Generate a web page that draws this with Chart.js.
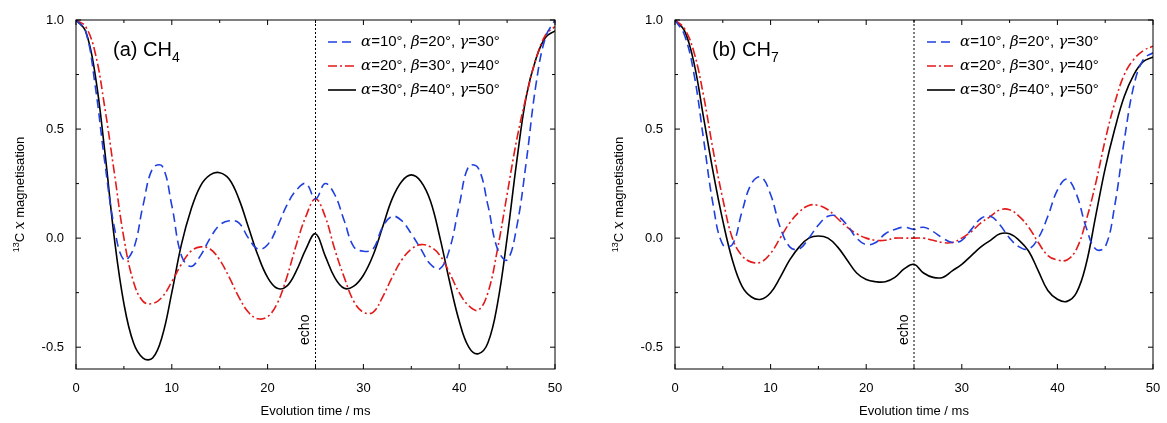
<!DOCTYPE html>
<html><head><meta charset="utf-8">
<script src="https://cdn.jsdelivr.net/npm/chart.js@4/dist/chart.umd.min.js"></script>
<style>
body{margin:0;background:#fff;width:1167px;height:423px;overflow:hidden}
.p{position:absolute;top:0;height:423px}
</style></head><body>
<div class="p" style="left:0;width:580px"><canvas id="ca"></canvas></div>
<div class="p" style="left:600px;width:567px"><canvas id="cb"></canvas></div>
<script>
const times = Array.from({length: 51}, (_, i) => i);
const legendLabels = ['=10°, β=20°, γ=30°', '=20°, β=30°, γ=40°', '=30°, β=40°, γ=50°'];
const yTicks = [-0.5, 0, 0.5, 1.0];

const blueA = [1.0,0.95,0.7,0.35,0.05,-0.1,-0.05,0.15,0.32,0.33,0.15,-0.08,-0.13,-0.08,0.0,0.06,0.08,0.07,0.0,-0.05,-0.03,0.05,0.15,0.22,0.25,0.18,0.25,0.2,0.08,-0.04,-0.06,-0.05,0.05,0.1,0.08,0.02,-0.05,-0.12,-0.14,-0.05,0.15,0.33,0.32,0.15,-0.05,-0.1,0.05,0.35,0.7,0.92,1.0];
const redA = [1.0,0.97,0.85,0.6,0.3,0.0,-0.2,-0.29,-0.3,-0.27,-0.2,-0.12,-0.06,-0.04,-0.05,-0.1,-0.18,-0.27,-0.34,-0.37,-0.36,-0.3,-0.18,-0.03,0.1,0.18,0.1,-0.05,-0.18,-0.29,-0.34,-0.34,-0.27,-0.18,-0.1,-0.05,-0.03,-0.04,-0.08,-0.16,-0.25,-0.31,-0.33,-0.25,-0.05,0.2,0.45,0.65,0.82,0.93,0.97];
const blackA = [1.0,0.95,0.75,0.4,0.0,-0.3,-0.48,-0.55,-0.55,-0.45,-0.25,-0.03,0.13,0.24,0.29,0.3,0.27,0.18,0.05,-0.08,-0.18,-0.23,-0.22,-0.15,-0.05,0.02,-0.08,-0.18,-0.23,-0.22,-0.17,-0.08,0.05,0.18,0.26,0.29,0.26,0.17,0.0,-0.2,-0.38,-0.5,-0.53,-0.48,-0.3,0.0,0.35,0.65,0.82,0.92,0.95];
const blueB = [1.0,0.93,0.75,0.45,0.15,-0.03,-0.03,0.12,0.25,0.28,0.2,0.05,-0.04,-0.05,0.0,0.06,0.1,0.1,0.06,0.0,-0.03,-0.02,0.02,0.04,0.05,0.04,0.05,0.03,0.0,-0.02,-0.01,0.04,0.09,0.1,0.06,0.0,-0.04,-0.05,0.0,0.1,0.22,0.27,0.2,0.05,-0.05,-0.04,0.15,0.45,0.7,0.82,0.85];
const redB = [1.0,0.96,0.85,0.65,0.4,0.18,0.0,-0.08,-0.11,-0.11,-0.07,0.0,0.07,0.12,0.15,0.15,0.13,0.09,0.05,0.02,0.0,-0.01,-0.01,0.0,0.0,0.0,0.0,-0.01,-0.02,-0.02,0.0,0.03,0.07,0.1,0.13,0.13,0.1,0.05,-0.02,-0.08,-0.1,-0.1,-0.05,0.08,0.25,0.45,0.62,0.75,0.82,0.86,0.88];
const blackB = [1.0,0.95,0.8,0.55,0.3,0.08,-0.1,-0.22,-0.27,-0.28,-0.25,-0.18,-0.1,-0.04,0.0,0.01,0.0,-0.04,-0.1,-0.16,-0.19,-0.2,-0.2,-0.18,-0.14,-0.12,-0.16,-0.18,-0.18,-0.15,-0.12,-0.08,-0.04,-0.01,0.02,0.02,-0.01,-0.06,-0.15,-0.24,-0.28,-0.29,-0.25,-0.12,0.1,0.32,0.5,0.65,0.75,0.81,0.83];

const styles = [
    {color: '#1f3fe0', dash: [9, 5]},
    {color: '#e41a1a', dash: [9, 3, 2, 3]},
    {color: '#000000', dash: []}
];

const decor = {
    id: 'decor',
    afterDraw(chart) {
        const o = chart.options.plugins.decor;
        const ctx = chart.ctx, a = chart.chartArea;
        const xs = chart.scales.x, ys = chart.scales.y;
        ctx.save();
        ctx.strokeStyle = '#000';
        ctx.lineWidth = 1;
        ctx.strokeRect(a.left, a.top, a.right - a.left, a.bottom - a.top);
        // ticks inward
        ctx.beginPath();
        for (let v = 0; v <= 50; v += 5) {
            const x = xs.getPixelForValue(v), len = v % 10 === 0 ? 5 : 3;
            ctx.moveTo(x, a.bottom); ctx.lineTo(x, a.bottom - len);
            ctx.moveTo(x, a.top); ctx.lineTo(x, a.top + len);
        }
        for (let v = -0.5; v <= 1.0; v += 0.25) {
            const y = ys.getPixelForValue(v), len = Math.abs(v * 2 % 1) < 1e-9 ? 5 : 3;
            ctx.moveTo(a.left, y); ctx.lineTo(a.left + len, y);
            ctx.moveTo(a.right, y); ctx.lineTo(a.right - len, y);
        }
        ctx.stroke();
        // echo line
        const ex = xs.getPixelForValue(25);
        ctx.setLineDash([2, 2]);
        ctx.beginPath(); ctx.moveTo(ex, a.top); ctx.lineTo(ex, a.bottom); ctx.stroke();
        ctx.setLineDash([]);
        ctx.fillStyle = '#000';
        ctx.font = '14px "Liberation Sans", Arial';
        ctx.save();
        ctx.translate(ex - 3, ys.getPixelForValue(-0.42));
        ctx.rotate(-Math.PI / 2);
        ctx.textAlign = 'center';
        ctx.textBaseline = 'bottom';
        ctx.fillText('echo', 0, 0);
        ctx.restore();
        // panel label
        ctx.font = '20px "Liberation Sans", Arial';
        ctx.textBaseline = 'alphabetic';
        ctx.fillText(o.label, a.left + 37, a.top + 36);
        const w = ctx.measureText(o.label).width;
        ctx.font = '14px "Liberation Sans", Arial';
        ctx.fillText(o.sub, a.left + 37 + w, a.top + 42);
        // legend
        const lx = a.left + o.legendX;
        for (let i = 0; i < 3; i++) {
            const y = a.top + 22 + i * 24;
            ctx.strokeStyle = styles[i].color;
            ctx.lineWidth = 1.6;
            ctx.setLineDash(styles[i].dash);
            ctx.beginPath(); ctx.moveTo(lx, y); ctx.lineTo(lx + 28, y); ctx.stroke();
            ctx.setLineDash([]);
            ctx.fillStyle = '#000';
            ctx.textBaseline = 'middle';
            ctx.font = 'italic 15px "DejaVu Serif", serif';
            ctx.fillText('α', lx + 33, y);
            const aw = ctx.measureText('α').width;
            ctx.font = '15px "Liberation Sans", Arial';
            const parts = legendLabels[i].split(/([βγ])/);
            let px = lx + 33 + aw;
            for (const p of parts) {
                if (p === 'β' || p === 'γ') ctx.font = 'italic 15px "DejaVu Serif", serif';
                else ctx.font = '15px "Liberation Sans", Arial';
                ctx.fillText(p, px, y);
                px += ctx.measureText(p).width;
            }
        }
        // y title
        ctx.save();
        ctx.translate(a.left - 52, (a.top + a.bottom) / 2);
        ctx.rotate(-Math.PI / 2);
        ctx.fillStyle = '#000';
        ctx.textBaseline = 'alphabetic';
        const pieces = [['9px', '13', -5], ['13px', 'C ', 0], ['italic 14px "DejaVu Serif", serif', 'x', 0], ['13px', ' magnetisation', 0]];
        let total = 0;
        const fonts = pieces.map(p => p[0].includes('Serif') ? p[0] : p[0] + ' "Liberation Sans", Arial');
        pieces.forEach((p, i) => { ctx.font = fonts[i]; total += ctx.measureText(p[1]).width; });
        let tx = -total / 2;
        pieces.forEach((p, i) => { ctx.font = fonts[i]; ctx.fillText(p[1], tx, p[2]); tx += ctx.measureText(p[1]).width; });
        ctx.restore();
        ctx.restore();
    }
};

function makeChart(id, data, label, sub, legendX, yWidth, padRight) {
    const sets = data.map((d, i) => ({
        data: d,
        borderColor: styles[i].color,
        borderDash: styles[i].dash,
        borderWidth: 1.6,
        pointRadius: 0,
        tension: 0.4,
        fill: false
    }));
    return new Chart(document.getElementById(id), {
        type: 'line',
        data: {labels: times, datasets: sets},
        options: {
            responsive: false,
            animation: false,
            layout: {padding: {top: 20, right: padRight, left: 0, bottom: 0}},
            plugins: {
                legend: {display: false},
                tooltip: {enabled: false},
                decor: {label: label, sub: sub, legendX: legendX}
            },
            scales: {
                x: {
                    type: 'linear', min: 0, max: 50,
                    grid: {display: false}, border: {display: false},
                    ticks: {stepSize: 10, color: '#000', font: {size: 13, family: '"Liberation Sans", Arial'}, maxRotation: 0, padding: 4},
                    title: {display: true, text: 'Evolution time / ms', color: '#000', font: {size: 13, family: '"Liberation Sans", Arial'}, padding: {top: 6}},
                    afterFit(s) { s.height = 54; }
                },
                y: {
                    min: -0.6, max: 1.0,
                    grid: {display: false}, border: {display: false},
                    afterBuildTicks(s) { s.ticks = yTicks.map(v => ({value: v})); },
                    ticks: {color: '#000', font: {size: 13, family: '"Liberation Sans", Arial'}, callback: v => v.toFixed(1), padding: 4},
                    afterFit(s) { s.width = yWidth; }
                }
            }
        },
        plugins: [decor]
    });
}

function size(id, w) {
    const c = document.getElementById(id);
    c.width = w; c.height = 423;
    c.style.width = w + 'px'; c.style.height = '423px';
}
size('ca', 580);
size('cb', 567);
makeChart('ca', [blueA, redA, blackA], '(a) CH', '4', 252, 76, 25);
makeChart('cb', [blueB, redB, blackB], '(b) CH', '7', 252, 75, 14);
</script>
</body></html>
